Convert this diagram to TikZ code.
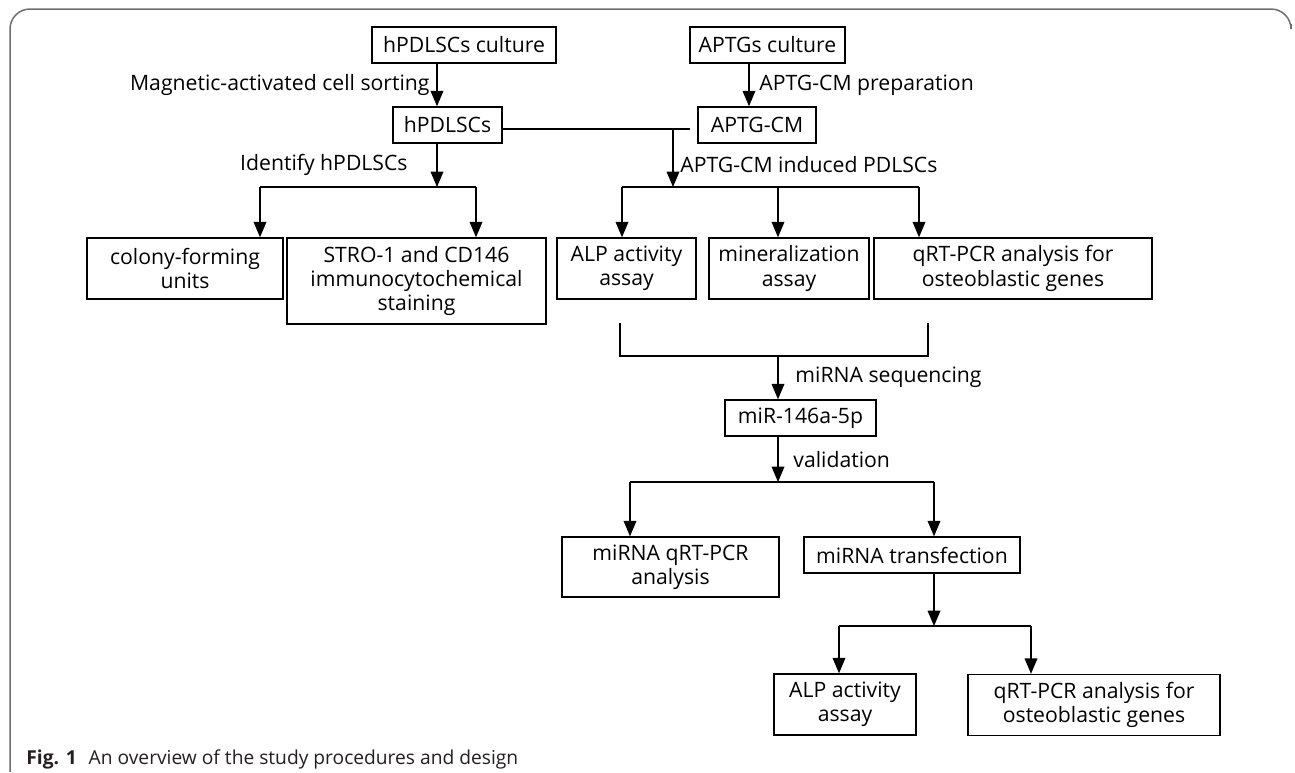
\documentclass[tikz,border=0pt]{standalone}
\usepackage{fontspec}
\setmainfont{Open Sans}
\usepackage{tikz}
\usetikzlibrary{shapes,arrows}
\usetikzlibrary{positioning}
\definecolor{framegray}{HTML}{6E6E6E}
\definecolor{captext}{HTML}{231F20}
\tikzstyle{block} = [rectangle, draw, line width=0.75pt, inner sep=0pt,
    align=center]
\tikzstyle{line} = [draw, line width=0.75pt, -triangle 45]
\tikzstyle{wire} = [draw, line width=0.75pt, -]

\begin{document}
\begin{tikzpicture}[x=0.5pt, y=-0.5pt, font=\fontsize{10.6}{12.2}\selectfont]
  \useasboundingbox (0,0) rectangle (1295,772);
  % outer frame
  \draw [framegray, line width=0.75pt, rounded corners=10]
    (10,772) -- (10,9) -- (1291,9) -- (1291,24);

  % Place nodes
  \node [block, minimum width=92pt, minimum height=18pt] (hcult) at (464,45) {hPDLSCs culture};
  \node [block, minimum width=77.5pt, minimum height=18pt] (aptgcult) at (767.5,45) {APTGs culture};
  \node [block, minimum width=54.5pt, minimum height=18pt] (hpdlsc) at (447.5,125) {hPDLSCs};
  \node [block, minimum width=59pt, minimum height=18pt] (aptgcm) at (757,125) {APTG-CM};

  \node [block, minimum width=98pt, minimum height=30.5pt] (colony) at (185,268.5) {colony-forming\\units};
  \node [block, minimum width=129.5pt, minimum height=43pt] (stro) at (416.5,281) {STRO-1 and CD146\\immunocytochemical\\staining};
  \node [block, minimum width=69.5pt, minimum height=30.5pt] (alp) at (626.5,268.5) {ALP activity\\assay};
  \node [block, minimum width=80pt, minimum height=30.5pt] (miner) at (789,268.5) {mineralization\\assay};
  \node [block, minimum width=139pt, minimum height=30.5pt] (qrt) at (1013,268.5) {qRT-PCR analysis for\\osteoblastic genes};

  \node [block, minimum width=75.5pt, minimum height=18pt] (mir) at (800.5,418) {miR-146a-5p};
  \node [block, minimum width=108.5pt, minimum height=30pt] (mirqrt) at (670.5,567) {miRNA qRT-PCR\\analysis};
  \node [block, minimum width=108pt, minimum height=18pt] (transf) at (912,555) {miRNA transfection};
  \node [block, minimum width=71pt, minimum height=30.5pt] (alpb) at (845,704.5) {ALP activity\\assay};
  \node [block, minimum width=126pt, minimum height=30.5pt] (qrtb) at (1094,705) {qRT-PCR analysis for\\osteoblastic genes};

  \node [anchor=west, inner sep=0pt, text=captext, font=\fontsize{9.6}{11}\selectfont] (cap) at (26,759)
    {\textbf{Fig. 1}\hspace{6pt}An overview of the study procedures and design};

  % Junctions
  \coordinate (cA) at (437,0);
  \coordinate (cB) at (749,0);
  \coordinate (cC) at (673,0);
  \coordinate (gap) at (690,129);
  \coordinate (top2) at (0,187);
  \coordinate (bl) at (260,187);
  \coordinate (br) at (476,187);
  \coordinate (ml) at (622,187);
  \coordinate (mm) at (778,187);
  \coordinate (mr) at (919,187);
  \coordinate (sl) at (620,323);
  \coordinate (sr) at (928,323);
  \coordinate (sy) at (0,356);
  \coordinate (sm) at (778,356);
  \coordinate (vl) at (630,482);
  \coordinate (vr) at (934,482);
  \coordinate (tl) at (839,626);
  \coordinate (tr) at (1031,626);

  % Draw edges
  \path [line] (hcult.south -| cA) -- node [left] {Magnetic-activated cell sorting} (hpdlsc.north -| cA);
  \path [line] (aptgcult.south -| cB) -- node [right, xshift=1.5pt] {APTG-CM preparation} (aptgcm.north -| cB);
  \path [wire] ([yshift=-2pt]hpdlsc.east) -- (gap);
  \path [line] (gap -| cC) -- node [right, pos=0.62] {APTG-CM induced PDLSCs} (cC |- top2);
  \path [line] (hpdlsc.south -| cA) -- node [left, xshift=-11pt] {Identify hPDLSCs} (cA |- top2);

  \path [wire] (bl) -- (br);
  \path [line] (bl) -- (colony.north -| bl);
  \path [line] (br) -- (stro.north -| br);

  \path [wire] (ml) -- (mr);
  \path [line] (ml) -- (alp.north -| ml);
  \path [line] (mm) -- (miner.north -| mm);
  \path [line] (mr) -- (qrt.north -| mr);

  \path [wire] (sl) -- (sl |- sy) -- (sr |- sy) -- (sr);
  \path [line] (sm) -- node [right, xshift=5pt] {miRNA sequencing} (mir.north -| sm);
  \path [line] (mir.south -| sm) -- node [right, xshift=4pt] {validation} (sm |- vl);

  \path [wire] (vl) -- (vr);
  \path [line] (vl) -- (mirqrt.north -| vl);
  \path [line] (vr) -- (transf.north -| vr);
  \path [line] (transf.south -| vr) -- (vr |- tl);

  \path [wire] (tl) -- (tr);
  \path [line] (tl) -- (alpb.north -| tl);
  \path [line] (tr) -- (qrtb.north -| tr);
\end{tikzpicture}
\end{document}
